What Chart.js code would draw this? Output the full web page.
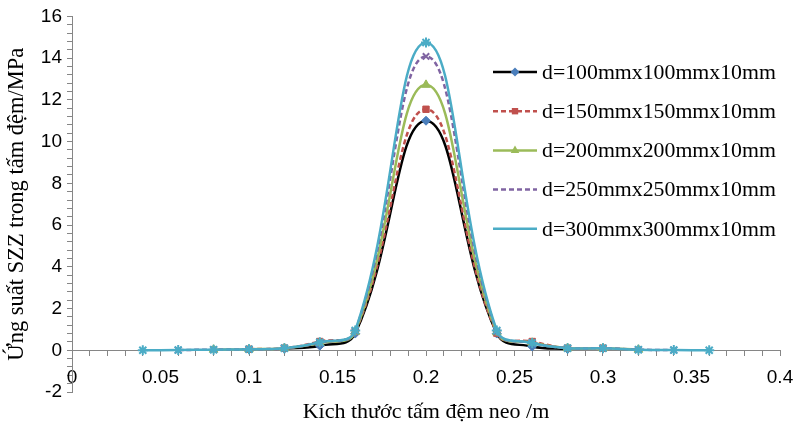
<!DOCTYPE html>
<html>
<head>
<meta charset="utf-8">
<script src="https://cdn.jsdelivr.net/npm/chart.js@4/dist/chart.umd.min.js"></script>
<style>
  body { margin: 0; background: #fff; }
</style>
</head>
<body>
<canvas id="graph" width="795" height="430"></canvas>
<script>
// positions along the plate (m)
const positions = [0.04, 0.06, 0.08, 0.1, 0.12, 0.14, 0.16, 0.2, 0.24, 0.26, 0.28, 0.3, 0.32, 0.34, 0.36];

const seriesNames = [
    'd=100mmx100mmx10mm',
    'd=150mmx150mmx10mm',
    'd=200mmx200mmx10mm',
    'd=250mmx250mmx10mm',
    'd=300mmx300mmx10mm'
];

// SZZ stress values (MPa), null where the series has no point
const d100 = [null, null, null, null, 0.08, 0.22, 0.8, 11.0, 0.8, 0.18, 0.06, null, null, null, null];
const d150 = [null, null, null, 0.05, 0.1, 0.42, 0.9, 11.55, 0.82, 0.42, 0.1, 0.1, null, null, null];
const d200 = [null, null, 0.03, 0.05, 0.1, 0.36, 0.88, 12.72, 0.86, 0.36, 0.1, 0.1, 0.03, null, null];
const d250 = [null, 0.01, 0.03, 0.05, 0.1, 0.37, 0.92, 14.08, 0.9, 0.36, 0.1, 0.1, 0.03, 0.01, null];
const d300 = [0, 0.01, 0.03, 0.05, 0.1, 0.38, 0.95, 14.75, 0.95, 0.35, 0.1, 0.1, 0.03, 0.01, 0];

const yTickLabels = [-2, 0, 2, 4, 6, 8, 10, 12, 14, 16];
const xTickLabels = [0, 0.05, 0.1, 0.15, 0.2, 0.25, 0.3, 0.35, 0.4];

const axisGray = '#868686';

function toPoints(values) {
    return positions.map((x, i) => ({ x: x, y: values[i] }));
}

const styles = [
    { line: '#000000', marker: '#4A7EBB', style: 'rectRot', dash: [], radius: 4.5 },
    { line: '#C0504D', marker: '#C0504D', style: 'rect', dash: [5, 3], radius: 4.5 },
    { line: '#9BBB59', marker: '#9BBB59', style: 'triangle', dash: [], radius: 5 },
    { line: '#8064A2', marker: '#8064A2', style: 'crossRot', dash: [5, 3], radius: 4.5 },
    { line: '#4BACC6', marker: '#4BACC6', style: 'star', dash: [], radius: 5 }
];

const allValues = [d100, d150, d200, d250, d300];

const datasets = allValues.map((vals, i) => ({
    label: seriesNames[i],
    data: toPoints(vals),
    borderColor: styles[i].line,
    borderWidth: 2.5,
    borderDash: styles[i].dash,
    backgroundColor: styles[i].marker,
    pointStyle: styles[i].style,
    pointRadius: styles[i].radius,
    pointBackgroundColor: styles[i].marker,
    pointBorderColor: styles[i].marker,
    pointBorderWidth: (styles[i].style == 'star' || styles[i].style == 'crossRot') ? 2 : 1,
    tension: 0.42,
    fill: false,
    order: allValues.length - i
}));

// legend drawn inside the plot, line sample + marker + label
const insideLegend = {
    id: 'insideLegend',
    afterDraw(chart) {
        const ctx = chart.ctx;
        ctx.save();
        chart.data.datasets.forEach((ds, i) => {
            const y = 72 + i * 39.2;
            ctx.beginPath();
            ctx.strokeStyle = ds.borderColor;
            ctx.lineWidth = ds.borderWidth;
            ctx.setLineDash(ds.borderDash);
            ctx.moveTo(493, y);
            ctx.lineTo(537, y);
            ctx.stroke();
            ctx.setLineDash([]);
            ctx.fillStyle = ds.pointBackgroundColor;
            ctx.strokeStyle = ds.pointBorderColor;
            ctx.lineWidth = ds.pointBorderWidth;
            Chart.helpers.drawPoint(ctx, { pointStyle: ds.pointStyle, radius: ds.pointRadius, rotation: 0 }, 515, y);
            ctx.fillStyle = '#000';
            ctx.font = '21.8px "Liberation Serif", "Times New Roman", serif';
            ctx.textBaseline = 'middle';
            ctx.textAlign = 'left';
            ctx.fillText(ds.label, 542, y + 1);
        });
        ctx.restore();
    }
};

const chart = new Chart('graph', {
    type: 'line',
    data: { datasets: datasets },
    plugins: [insideLegend],
    options: {
        responsive: false,
        animation: false,
        devicePixelRatio: 1,
        layout: { padding: { left: 0, top: 16, right: 15, bottom: 38 } },
        plugins: {
            legend: { display: false },
            tooltip: { enabled: false }
        },
        scales: {
            x: {
                type: 'linear',
                position: { y: 0 },
                min: 0,
                max: 0.4,
                afterFit: (scale) => {
                    scale.height = 39;
                    scale.paddingRight = 0;
                    scale.paddingLeft = 0;
                },
                grid: { drawOnChartArea: false, drawTicks: true, tickLength: 5, color: axisGray, lineWidth: 1 },
                border: { display: true, color: axisGray, width: 1 },
                ticks: {
                    stepSize: 0.01,
                    autoSkip: false,
                    maxRotation: 0,
                    minRotation: 0,
                    padding: 11,
                    color: '#000',
                    font: { family: '"Liberation Sans", Arial, sans-serif', size: 19 },
                    callback: (v) => {
                        const r = Math.round(v * 100) / 100;
                        return xTickLabels.some(t => Math.abs(t - r) < 1e-9) ? String(r) : '';
                    }
                },
                title: {
                    display: true,
                    text: 'Kích thước tấm đệm neo /m',
                    color: '#000',
                    font: { family: '"Liberation Serif", "Times New Roman", serif', size: 22 },
                    padding: { top: 0, bottom: -36 }
                }
            },
            y: {
                min: -2,
                max: 16,
                afterFit: (scale) => { scale.width = 72; },
                grid: { drawOnChartArea: false, drawTicks: true, tickLength: 5, color: axisGray, lineWidth: 1 },
                border: { display: true, color: axisGray, width: 1 },
                ticks: {
                    stepSize: 0.4,
                    autoSkip: false,
                    padding: 5,
                    color: '#000',
                    font: { family: '"Liberation Sans", Arial, sans-serif', size: 19 },
                    callback: (v) => {
                        const r = Math.round(v * 10) / 10;
                        return yTickLabels.some(t => Math.abs(t - r) < 1e-9) ? String(r) : '';
                    }
                },
                title: {
                    display: true,
                    text: 'Ứng suất SZZ trong tấm đệm/MPa',
                    color: '#000',
                    font: { family: '"Liberation Serif", "Times New Roman", serif', size: 22.5 },
                    padding: { top: 4, bottom: 0 }
                }
            }
        }
    }
});
</script>
</body>
</html>
